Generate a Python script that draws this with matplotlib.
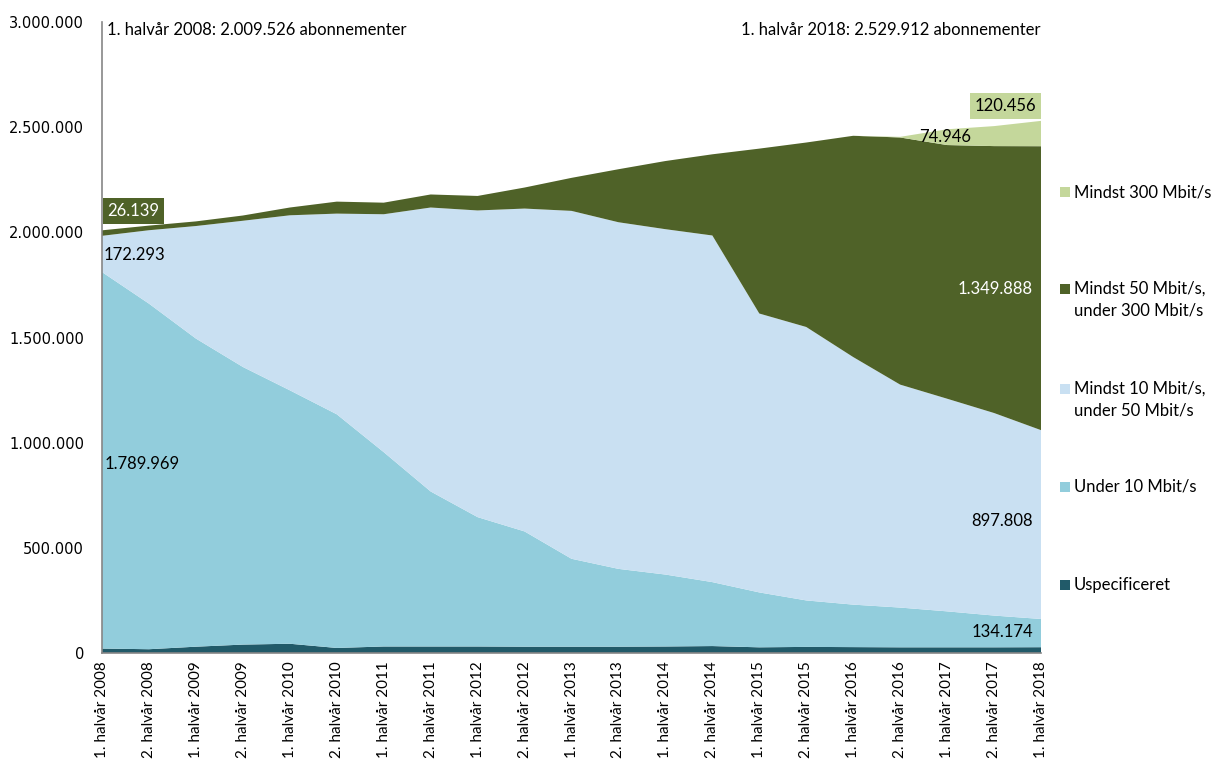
import numpy as np
import matplotlib
matplotlib.use("Agg")
import matplotlib.pyplot as plt
from matplotlib.patches import Rectangle
from matplotlib.ticker import FuncFormatter

periods = ["1. halvår 2008", "2. halvår 2008", "1. halvår 2009", "2. halvår 2009",
           "1. halvår 2010", "2. halvår 2010", "1. halvår 2011", "2. halvår 2011",
           "1. halvår 2012", "2. halvår 2012", "1. halvår 2013", "2. halvår 2013",
           "1. halvår 2014", "2. halvår 2014", "1. halvår 2015", "2. halvår 2015",
           "1. halvår 2016", "2. halvår 2016", "1. halvår 2017", "2. halvår 2017",
           "1. halvår 2018"]

uspecificeret = [21125, 18000, 30000, 40000, 44000, 24000, 31000, 31000, 31000, 30000,
                 30000, 30000, 31000, 33000, 27000, 29000, 28000, 27000, 27000, 27000, 27586]
under_10 = [1789969, 1643000, 1465000, 1320000, 1205000, 1111000, 924000, 737000, 615000,
            548000, 418000, 370000, 342000, 304000, 261000, 221000, 202000, 189000,
            171000, 151000, 134174]
mbit_10_50 = [172293, 349000, 535000, 695000, 832000, 954000, 1131000, 1350000, 1458000,
              1535000, 1654000, 1648000, 1642000, 1648000, 1326000, 1300000, 1177000,
              1060000, 1011000, 963000, 897808]
mbit_50_300 = [26139, 22000, 22000, 25000, 37000, 57000, 55000, 62000, 69000, 100000,
               157000, 252000, 324000, 386000, 784000, 877000, 1052000, 1175000,
               1206000, 1269000, 1349888]
mbit_300 = [0, 0, 0, 0, 0, 0, 0, 0, 0, 0, 0, 0, 0, 0, 0, 0, 0, 3000, 74946, 95000, 120456]

series_names = ["Uspecificeret", "Under 10 Mbit/s", "Mindst 10 Mbit/s,\nunder 50 Mbit/s",
                "Mindst 50 Mbit/s,\nunder 300 Mbit/s", "Mindst 300 Mbit/s"]
colors = ["#215A69", "#92CDDC", "#C9E0F2", "#4F6228", "#C4D79B"]

FONT = "Lato"
W, H = 1211, 769
fig = plt.figure(figsize=(W / 100, H / 100), dpi=100)
ax = fig.add_axes([102 / W, 1 - 653 / H, (1041 - 102) / W, (653 - 22) / H])

x = np.arange(len(periods))
ax.stackplot(x, uspecificeret, under_10, mbit_10_50, mbit_50_300, mbit_300,
             colors=colors, linewidth=0)

ax.set_xlim(0, len(periods) - 1)
ax.set_ylim(0, 3000000)
ax.set_yticks(np.arange(0, 3000001, 500000))
ax.yaxis.set_major_formatter(FuncFormatter(lambda v, p: f"{int(v):,}".replace(",", ".")))
ax.set_xticks(x)
ax.set_xticklabels(periods, rotation=90, fontfamily=FONT, fontsize=11)
for lab in ax.get_yticklabels():
    lab.set_fontfamily("DejaVu Sans")
    lab.set_fontsize(10.5)
ax.tick_params(axis="x", length=0, pad=6, colors="black")
ax.tick_params(axis="y", length=0, pad=13, colors="black")
for s in ["top", "right"]:
    ax.spines[s].set_visible(False)
for s in ["left", "bottom"]:
    ax.spines[s].set_color("#868686")
    ax.spines[s].set_linewidth(1.2)

fs = 12


def fmt(v):
    return f"{v:,}".replace(",", ".")


# header texts
ax.text(0.1, 2962000, "1. halvår 2008: 2.009.526 abonnementer", fontfamily=FONT,
        fontsize=fs, ha="left", va="center")
ax.text(19.98, 2962000, "1. halvår 2018: 2.529.912 abonnementer", fontfamily=FONT,
        fontsize=fs, ha="right", va="center")

# data labels
ax.text(0.12, 2100000, fmt(mbit_50_300[0]), fontfamily=FONT, fontsize=fs,
        color="white", ha="left", va="center",
        bbox=dict(facecolor=colors[3], edgecolor="none", pad=3.5))
ax.text(0.04, 1891000, fmt(mbit_10_50[0]), fontfamily=FONT, fontsize=fs,
        ha="left", va="center")
ax.text(0.06, 897000, fmt(under_10[0]), fontfamily=FONT, fontsize=fs,
        ha="left", va="center")
ax.text(19.83, 1729000, fmt(mbit_50_300[-1]), fontfamily=FONT, fontsize=fs,
        color="white", ha="right", va="center")
ax.text(19.83, 626000, fmt(mbit_10_50[-1]), fontfamily=FONT, fontsize=fs,
        ha="right", va="center")
ax.text(19.83, 97500, fmt(under_10[-1]), fontfamily=FONT, fontsize=fs,
        ha="right", va="center")
ax.text(17.95, 2452000, fmt(mbit_300[18]), fontfamily=FONT, fontsize=fs,
        ha="center", va="center")
ax.text(19.25, 2600000, fmt(mbit_300[-1]), fontfamily=FONT, fontsize=fs,
        ha="center", va="center",
        bbox=dict(facecolor=colors[4], edgecolor="none", pad=3.5))

# legend (manual, right side)
legend_rows = [(192, series_names[4], colors[4]),
               (289, series_names[3], colors[3]),
               (389, series_names[2], colors[2]),
               (487, series_names[1], colors[1]),
               (585, series_names[0], colors[0])]
for ypx, name, col in legend_rows:
    fig.add_artist(Rectangle((1060 / W, 1 - (ypx + 5) / H), 10 / W, 10 / H,
                             transform=fig.transFigure, facecolor=col, edgecolor="none"))
    for k, line in enumerate(name.split("\n")):
        fig.text(1074 / W, 1 - (ypx + 22 * k) / H, line, fontfamily=FONT, fontsize=fs,
                 ha="left", va="center")

fig.savefig("out.png", dpi=100)
